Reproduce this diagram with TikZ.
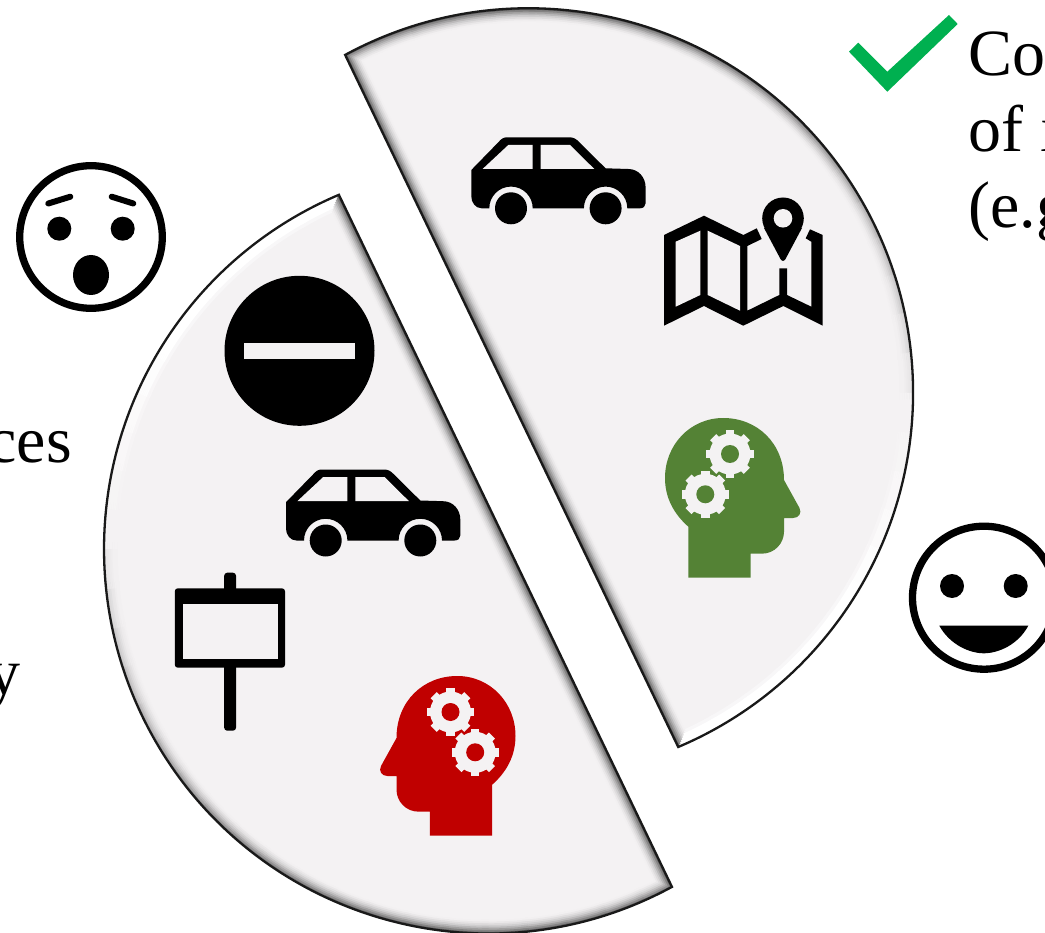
\documentclass[tikz,border=0pt]{standalone}
\usepackage{xcolor}
\usepackage{fontspec}
\setmainfont{Liberation Serif}
\definecolor{discfill}{HTML}{F4F2F3}
\definecolor{goodhead}{HTML}{548235}
\definecolor{badhead}{HTML}{C00000}
\definecolor{tick}{HTML}{00B050}

\tikzset{
  pics/halfdisc/.style={code={
    \fill[discfill] (118.5:384.5pt) arc[start angle=118.5, end angle=-67.1, radius=384.5pt] -- cycle;
    \begin{scope}
      \clip (118.5:384.5pt) arc[start angle=118.5, end angle=-67.1, radius=384.5pt] -- cycle;
      \foreach \k in {8,...,1}{
        \foreach \a in {120,114,...,-60}{
          \pgfmathtruncatemacro\dk{100-60*max(sin(\a),0)*((9-\k)/8)^2}
          \pgfmathtruncatemacro\wh{100*min(1,max(-2*sin(\a),0))*((\k<7)*0.6+0.4)}
          \draw[line width={3.4*\k pt}, draw=white!\wh!discfill!\dk!black] (\a:384.5pt) arc[start angle=\a, delta angle=-7, radius=384.5pt];
        }
        \pgfmathtruncatemacro\dk{100-60*((9-\k)/8)^2}
        \draw[line width={3.4*\k pt}, draw=discfill!\dk!black] (118.5:384.5pt) -- (-67.1:384.5pt);
      }
    \end{scope}
    \draw[line width=2.3pt, black!90, line join=miter] (118.5:384.5pt) arc[start angle=118.5, end angle=-67.1, radius=384.5pt] -- cycle;
  }},
  pics/car/.style={code={
    \fill[black] (0,32.7) -- (27,5) .. controls (30,1.5) and (32,0) .. (36,0) -- (98,0) .. controls (102,0) and (105,1.5) .. (108,5)
      -- (134.3,31) -- (157,31.7) .. controls (167,31.7) and (174.3,40) .. (174.3,50) -- (174.3,66) .. controls (174.3,69) and (172,71) .. (168.7,71)
      -- (156,71) arc[start angle=0, end angle=180, radius=21.7pt] -- (61.4,71) arc[start angle=0, end angle=180, radius=21.7pt]
      -- (10.3,71) .. controls (4,71) and (0,65) .. (0,59) -- cycle;
    \fill[discfill] (11.3,31.7) -- (37,7.7) -- (61.3,7.7) -- (61.3,31.7) -- cycle;
    \fill[discfill] (69.3,31.7) -- (69.3,7.7) -- (98.7,7.7) -- (123,31.7) -- cycle;
    \fill[black] (39.7,71) circle[radius=16pt];
    \fill[black] (134.3,71) circle[radius=16pt];
  }},
  pics/head/.style={code={
    \fill[#1] (23.3,159.7) -- (85.7,159.7) -- (85.7,135.7) -- (96.7,135.7) .. controls (110,135.7) and (119,125) .. (119,113.7)
      -- (119,100) -- (128,100) .. controls (134,100) and (137,95) .. (134.5,90) -- (119,62)
      .. controls (119,25) and (92,0) .. (58.3,0) .. controls (25,0) and (0,27) .. (0,60) .. controls (0,80) and (9,96) .. (23.3,108.7) -- cycle;
    \foreach \gx/\gy in {65/36,40.3/76.3}{
      \begin{scope}[shift={(\gx,\gy)}]
        \fill[discfill] (0,0) circle[radius=20.5pt];
        \foreach \a in {0,45,...,315}{
          \draw[discfill, line width=8.5pt] (\a:15) -- (\a:23.7);
        }
        \fill[#1] (0,0) circle[radius=9pt];
      \end{scope}
    }
  }},
  face/.style={draw=black, line width=7.3pt, fill=white},
  words/.style={inner sep=0pt, font=\fontsize{66}{79}\selectfont, text=black},
}

\begin{document}
\begin{tikzpicture}[x=1pt, y=-1pt]
\useasboundingbox (0,0) rectangle (1045,933);
\clip (0,0) rectangle (1045,933);

% === DISC PIECES ===
\pic at (528.6,392.8) {halfdisc};
\pic[rotate=180] at (488.5,549) {halfdisc};

% === TEXT ===
\node[words, anchor=base west] (co) at (968.5,75.5) {Co};
\node[words, anchor=base west] (ofi) at (968.5,152) {of i};
\node[words, anchor=base west] (eg) at (968.5,228) {(e.g};
\node[words, anchor=base east] (ces) at (72,463) {ces};
\node[words, anchor=base east] (why) at (21,694) {y};

% === TICK ===
\fill[tick] (849,51.7) -- (858.3,42.7) -- (887.3,71.7) -- (949,15) -- (957.7,24) -- (887.3,91.7) -- cycle;

% === SURPRISED FACE ===
\draw[face] (91,237) circle[radius=71.3pt];
\fill (59.3,228.7) circle[radius=12pt];
\fill (122.7,228.7) circle[radius=12pt];
\fill (91,275) ellipse[x radius=18pt, y radius=20pt];
\draw[line width=6pt, line cap=round] (48.3,203.5) -- (70.3,196.7);
\draw[line width=6pt, line cap=round] (111.7,196.7) -- (133.3,203.5);

% === HAPPY FACE ===
\draw[face] (984,597.7) circle[radius=71.5pt];
\fill (952,586) circle[radius=12pt];
\fill (1015.7,586) circle[radius=12pt];
\fill (939.3,625.7) .. controls (950,645) and (970,653.3) .. (983.8,653.3) .. controls (998,653.3) and (1018,645) .. (1028.3,625.7) -- cycle;

% === NO ENTRY ===
\fill (299.5,350.8) circle[radius=75pt];
\fill[discfill] (244,342.7) rectangle (355,359);

% === SIGN ===
\fill[rounded corners=3pt] (224.2,730.7) -- (224.2,572.7) -- (236,572.7) -- (236,730.7) -- cycle;
\fill[rounded corners=3pt] (174.8,588.3) rectangle (285,667.7);
\fill[discfill] (182.6,604) rectangle (277.6,659.3);

% === MAP ===
\fill (664,235) -- (704,215.7) -- (743.3,235) -- (756.7,228.3) -- (761.7,239) -- (747.3,246) -- (747.3,310.7) -- (779.3,295) -- (779.3,268.3)
  -- (787,268.3) -- (787,295) -- (811.3,306.7) -- (811.3,241.7) -- (805.7,238.3) -- (810,229.3) -- (822.7,235) -- (822.7,325.7)
  -- (783.3,306) -- (743.3,325.7) -- (704,306) -- (664,325.7) -- cycle;
\fill[discfill] (675.7,241.7) -- (700.3,230.7) -- (700.3,295) -- (675.7,306.7) -- cycle;
\fill[discfill] (707.7,230.7) -- (740,246) -- (740,310.7) -- (707.7,295) -- cycle;
\fill (783,218.3) circle[radius=20.8pt];
\fill (764,228) -- (780.5,259) .. controls (782,261.5) and (784,261.5) .. (785.5,259) -- (802,228) -- cycle;
\fill[discfill] (783,218.3) circle[radius=9.3pt];

% === CARS AND HEADS ===
\pic at (471.3,137.3) {car};
\pic at (286,469.5) {car};
\pic at (665,418) {head=goodhead};
\pic[xscale=-1] at (515.5,676) {head=badhead};

\end{tikzpicture}
\end{document}
